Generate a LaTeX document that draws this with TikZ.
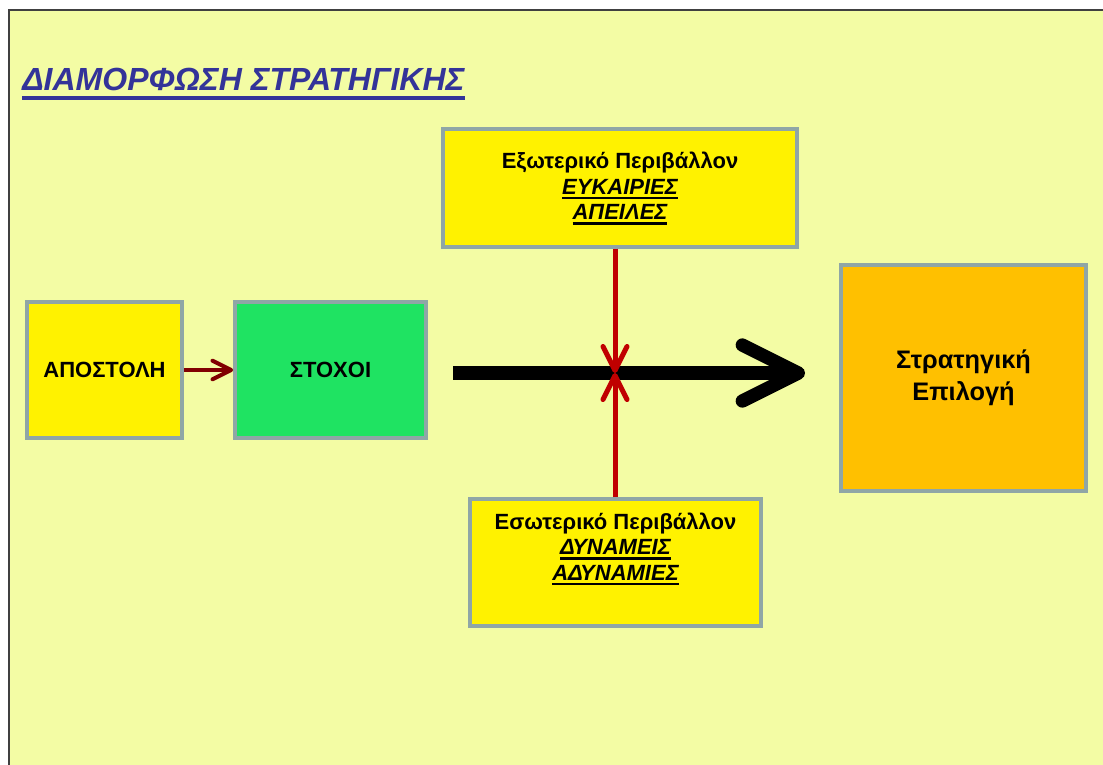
\documentclass[tikz,border=0pt]{standalone}
\usepackage{fontspec}
\setmainfont{Liberation Sans}
\usetikzlibrary{arrows.meta,positioning,calc}
\definecolor{bgyellow}{RGB}{243,252,164}
\definecolor{boxgray}{RGB}{143,166,166}
\definecolor{boxgreen}{RGB}{31,227,98}
\definecolor{boxorange}{RGB}{255,192,0}
\definecolor{titleblue}{RGB}{51,51,153}
\definecolor{darkred}{RGB}{128,0,0}
\definecolor{linered}{RGB}{192,0,0}
\newcommand{\uln}[1]{\setbox0\hbox{#1}\rlap{\rule[-3.7pt]{\wd0}{2pt}}\box0}
\newcommand{\ulnt}[1]{\setbox0\hbox{#1}\rlap{\rule[-7.3pt]{\wd0}{3pt}}\box0}

\begin{document}
\begin{tikzpicture}[x=0.75pt,y=-0.75pt,
  box/.style={draw=boxgray,line width=3pt,align=center,inner sep=0pt,
    font=\bfseries\fontsize{16.5}{19}\selectfont},
  boxtext/.style={align=center,inner sep=0pt,font=\bfseries\fontsize{16.5}{19.2}\selectfont}]
\useasboundingbox (0,0) rectangle (1103,764);
\clip (0,0) rectangle (1103,764);
\fill[white] (0,0) rectangle (1103,764);
\filldraw[fill=bgyellow,draw=black!75,line width=1.5pt] (9,10) rectangle (1130,800);
\node[anchor=base west,inner sep=0pt,text=titleblue,font=\bfseries\itshape\fontsize{24}{28}\selectfont] (title) at (22,90)
  {\ulnt{ΔΙΑΜΟΡΦΩΣΗ ΣΤΡΑΤΗΓΙΚΗΣ}};
% boxes
\node[box,fill=yellow,minimum width=116pt,minimum height=102pt] (apo) at (104.5,370) {ΑΠΟΣΤΟΛΗ};
\node[box,fill=boxgreen,minimum width=143pt,minimum height=102pt] (stoxoi) at (330.5,370) {ΣΤΟΧΟΙ};
\node[box,fill=yellow,minimum width=265.5pt,minimum height=88.5pt] (ext) at (620,187.5) {};
\node[boxtext] (extlbl) at ($(ext.center)+(0,1)$)
  {Εξωτερικό Περιβάλλον\\ \uln{\itshape ΕΥΚΑΙΡΙΕΣ}\\ \uln{\itshape ΑΠΕΙΛΕΣ}};
\node[box,fill=yellow,minimum width=218pt,minimum height=95pt] (int) at (615.5,562.5) {};
\node[boxtext] (intlbl) at ($(int.north)+(0,52)$)
  {Εσωτερικό Περιβάλλον\\ \uln{\itshape ΔΥΝΑΜΕΙΣ}\\ \uln{\itshape ΑΔΥΝΑΜΙΕΣ}};
\node[box,fill=boxorange,minimum width=183.75pt,minimum height=169.5pt,
  font=\bfseries\fontsize{19}{24}\selectfont] (choice) at (963.5,378) {Στρατηγική\\Επιλογή};
% connectors
\draw[darkred,line width=3pt,-{Straight Barb[length=14pt,width=14pt,round]}] (apo.east) -- (stoxoi.west);
\coordinate (bigstart) at (453,373); \coordinate (bigtip) at (805,373);
\coordinate (cross) at (615,373);
\draw[black,line width=10pt,-{Straight Barb[length=42pt,width=42pt,round]}] (bigstart) -- (bigtip);
\draw[linered,line width=3.75pt,-{Straight Barb[length=18pt,width=18pt,round]}] (ext.south -| cross) -- (cross);
\draw[linered,line width=3.75pt,-{Straight Barb[length=18pt,width=18pt,round]}] (int.north -| cross) -- (cross);
\end{tikzpicture}
\end{document}
